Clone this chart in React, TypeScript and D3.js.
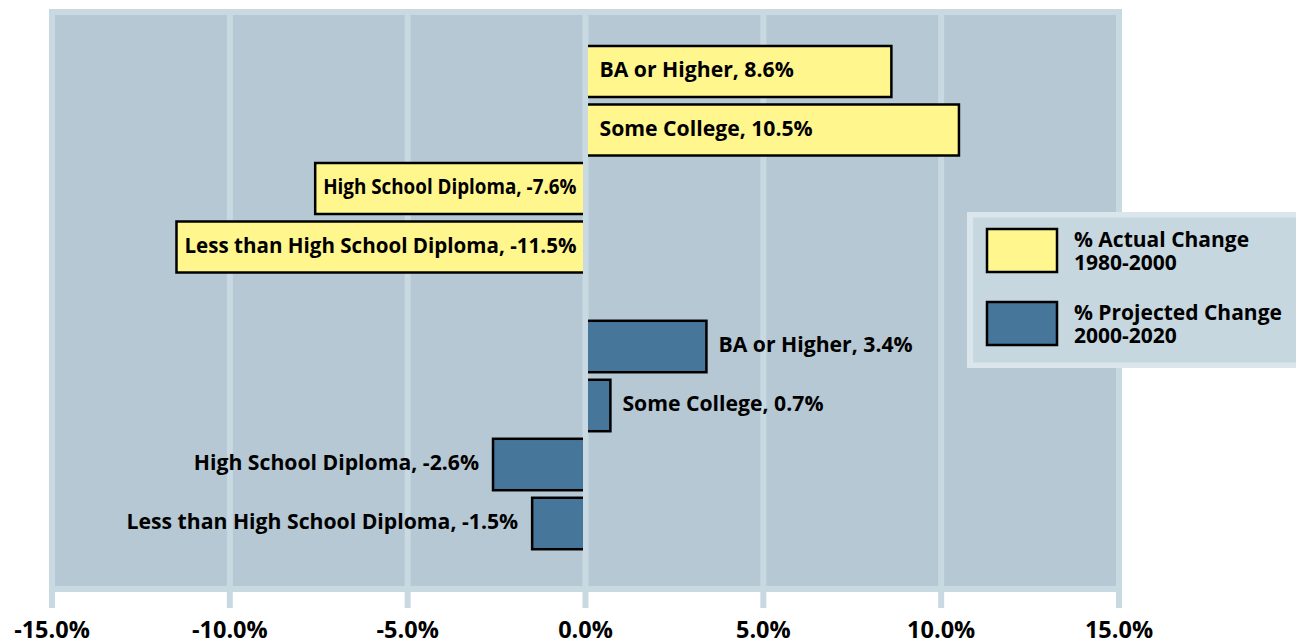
import React from "react";
import * as d3 from "d3";

const categories = ["BA or Higher", "Some College", "High School Diploma", "Less than High School Diploma"];
const actualChange = [8.6, 10.5, -7.6, -11.5];
const projectedChange = [3.4, 0.7, -2.6, -1.5];
const tickValues = [-15, -10, -5, 0, 5, 10, 15];
const seriesNames = [["% Actual Change", "1980-2000"], ["% Projected Change", "2000-2020"]];

const W = 1296;
const H = 642;
const FONT = "'Open Sans', 'DejaVu Sans', sans-serif";
const YELLOW = "#fff68e";
const BLUE = "#46769a";
const PANEL = "#b5c8d3";
const LIGHT = "#c9d9e2";
const LABEL_SIZE = 21.2;

let measureCtx: CanvasRenderingContext2D | null = null;
function measure(text: string, size: number): number {
  if (!measureCtx) {
    const c = document.createElement("canvas");
    measureCtx = c.getContext("2d");
  }
  if (!measureCtx) return text.length * size * 0.55;
  measureCtx.font = `700 ${size}px 'Open Sans', 'DejaVu Sans', sans-serif`;
  return measureCtx.measureText(text).width;
}

export default function App() {
  const x = d3.scaleLinear().domain([-15, 15]).range([52, 1119]);
  const yTop = d3.scaleBand<string>().domain(categories).range([42.25, 276.25]).paddingInner(0.128).paddingOuter(0.064);
  const yBot = d3.scaleBand<string>().domain(categories).range([317, 553]).paddingInner(0.128).paddingOuter(0.064);
  const fmt = (v: number) => `${v.toFixed(1)}%`;
  const fmtLabel = (v: number) => `${v}%`;
  const panelTop = 9;
  const panelBottom = 592;
  const gw = 6;

  const bars = (vals: number[], y: d3.ScaleBand<string>, fill: string, inside: boolean) =>
    categories.map((c, i) => {
      const v = vals[i];
      const x0 = x(Math.min(0, v));
      const x1 = x(Math.max(0, v));
      const yy = y(c)!;
      const h = y.bandwidth();
      const label = `${c}, ${fmtLabel(v)}`;
      let tx: number;
      let anchor: string;
      let fitLen: number | undefined;
      if (inside) {
        tx = v >= 0 ? x(0) + 14 : x(0) - 9;
        anchor = v >= 0 ? "start" : "end";
        const natural = measure(label, LABEL_SIZE);
        const avail = v >= 0 ? x1 - tx - 8 : tx - x0 - 8;
        if (natural > avail) fitLen = avail;
      } else {
        tx = v >= 0 ? x1 + 12 : x0 - 14;
        anchor = v >= 0 ? "start" : "end";
      }
      return (
        <g key={c}>
          <rect x={x0} y={yy} width={x1 - x0} height={h} fill={fill} stroke="#000" strokeWidth={2.5} />
          <text
            x={tx}
            y={yy + h / 2}
            dy="0.27em"
            textAnchor={anchor}
            fontFamily={FONT}
            fontWeight={700}
            fontSize={LABEL_SIZE}
            fill="#000"
            {...(fitLen ? { textLength: fitLen, lengthAdjust: "spacingAndGlyphs" } : {})}
          >
            {label}
          </text>
        </g>
      );
    });

  return (
    <svg width={W} height={H} style={{ position: "absolute", left: 0, top: 0, background: "#fff" }}>
      <rect x={x(-15) - gw / 2} y={panelTop} width={x(15) - x(-15) + gw} height={panelBottom - panelTop} fill={LIGHT} />
      <rect x={x(-15) + gw / 2} y={panelTop + gw} width={x(15) - x(-15) - gw} height={panelBottom - panelTop - 2 * gw} fill={PANEL} />
      {tickValues.map((t) => (
        <rect key={t} x={x(t) - gw / 2} y={panelTop} width={gw} height={608 - panelTop} fill={LIGHT} />
      ))}
      {bars(actualChange, yTop, YELLOW, true)}
      {bars(projectedChange, yBot, BLUE, false)}
      <rect x={x(0) - gw / 2 + 0.5} y={panelTop} width={gw - 1} height={608 - panelTop} fill={LIGHT} />
      {tickValues.map((t) => (
        <text key={t} x={x(t)} y={637.5} textAnchor="middle" fontFamily={FONT} fontWeight={700} fontSize={23.5} fill="#000">
          {fmt(t)}
        </text>
      ))}
      <g>
        <rect x={967} y={212} width={340} height={156} fill="#dbe6ec" />
        <rect x={973} y={217.5} width={330} height={145} fill="#c6d7df" />
        {seriesNames.map((s, i) => (
          <g key={s[0]} transform={`translate(0, ${i * 73})`}>
            <rect x={987} y={229} width={70} height={43} fill={i === 0 ? YELLOW : BLUE} stroke="#000" strokeWidth={2.5} />
            <text x={1074} y={246.5} fontFamily={FONT} fontWeight={700} fontSize={21} fill="#000">{s[0]}</text>
            <text x={1074} y={269.5} fontFamily={FONT} fontWeight={700} fontSize={21} fill="#000">{s[1]}</text>
          </g>
        ))}
      </g>
    </svg>
  );
}
